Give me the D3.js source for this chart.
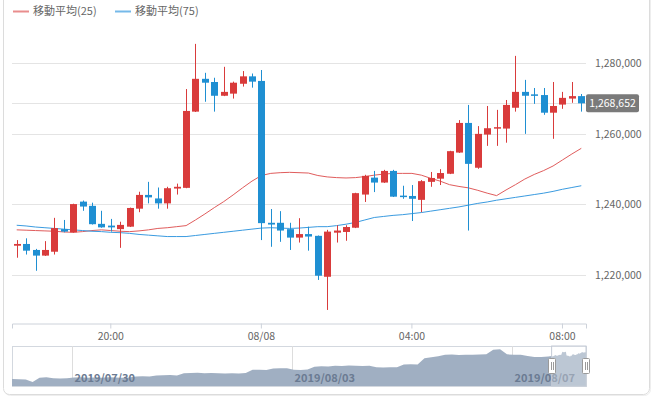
<!DOCTYPE html>
<html>
<head>
<meta charset="utf-8">
<script src="https://cdn.jsdelivr.net/npm/d3@7"></script>
<style>
  html, body { margin: 0; padding: 0; background: #fff; }
  svg { display: block; font-family: "Noto Sans CJK JP", "Noto Sans", sans-serif; }
</style>
</head>
<body>
<svg id="chart" width="653" height="398"></svg>
<script>
// ─── Data ─────────────────────────────────────────────────────────────
// 15-minute candles, 2019/08/07 17:30 → 2019/08/08 08:30
const candleStart = new Date(2019, 7, 7, 17, 30);
const candleStepMinutes = 15;

const opens = [
  1228300, 1228800, 1227100, 1225500, 1226600, 1233000, 1232100, 1240800, 1239600, 1234500,
  1234000, 1233000, 1233700, 1238800, 1242700, 1241700, 1240300, 1244500, 1244700, 1266300,
  1275600, 1274700, 1270800, 1271400, 1274200, 1276300, 1275000, 1234800, 1234800, 1233000,
  1230600, 1231600, 1231100, 1219500, 1232000, 1232200, 1233400, 1242800, 1247600, 1246200,
  1249500, 1242500, 1242400, 1241300, 1246400, 1247300, 1248700, 1254700, 1263100, 1250400,
  1259800, 1261500, 1261500, 1267400, 1271900, 1271200, 1271000, 1266000, 1268300, 1270000,
  1270700
];
const closes = [
  1228800, 1226900, 1225500, 1227100, 1233300, 1232300, 1240100, 1239400, 1234400, 1233500,
  1233500, 1234200, 1239000, 1242700, 1242000, 1240300, 1244600, 1245000, 1266500, 1275600,
  1274500, 1270800, 1271900, 1274500, 1276300, 1274800, 1234700, 1234300, 1232600, 1230600,
  1231600, 1230900, 1219800, 1232300, 1232600, 1233600, 1243200, 1248100, 1246200, 1249500,
  1242200, 1242200, 1241600, 1246600, 1247500, 1248900, 1255100, 1263100, 1251500, 1260000,
  1261600, 1261900, 1268200, 1271900, 1270800, 1270800, 1266000, 1267900, 1270200, 1270700,
  1268652
];
const highs = [
  1229900, 1230400, 1227400, 1229600, 1236200, 1235600, 1240200, 1241100, 1240500, 1238200,
  1235900, 1235100, 1239100, 1243600, 1246400, 1244800, 1245000, 1245900, 1272700, 1285500,
  1277300, 1275900, 1279000, 1274800, 1277800, 1277100, 1278100, 1238700, 1238100, 1234800,
  1236100, 1233700, 1231200, 1232800, 1234100, 1234100, 1243300, 1248400, 1249500, 1249800,
  1249800, 1245300, 1245500, 1246900, 1249200, 1250000, 1255200, 1263900, 1268200, 1262200,
  1267900, 1266800, 1269600, 1282100, 1275300, 1273000, 1273000, 1274700, 1271900, 1274700,
  1271300
];
const lows = [
  1224900, 1225800, 1221200, 1225400, 1225800, 1232100, 1232000, 1238200, 1234300, 1233400,
  1232300, 1227700, 1233600, 1237800, 1240300, 1238800, 1238800, 1242800, 1244600, 1266200,
  1269100, 1266300, 1270700, 1270000, 1273400, 1273100, 1229900, 1228000, 1229400, 1227100,
  1229200, 1226900, 1218600, 1210100, 1229200, 1229700, 1233300, 1240700, 1243500, 1246100,
  1242100, 1241600, 1235300, 1237800, 1245000, 1245500, 1248600, 1254600, 1232600, 1250100,
  1256600, 1256600, 1257500, 1266300, 1260000, 1268500, 1265400, 1258600, 1267100, 1268800,
  1266300
];

// Moving averages
const ma25 = [
  1232800, 1232700, 1232600, 1232500, 1232400, 1232200, 1232100, 1232300, 1232600, 1232800,
  1232600, 1232400, 1232300, 1232500, 1232800, 1233200, 1233400, 1233700, 1234000, 1235600,
  1237300, 1239100, 1240800, 1242700, 1244700, 1246600, 1248200, 1248800, 1249000, 1249100,
  1249000, 1248900, 1248200, 1247800, 1247600, 1247500, 1247600, 1247900, 1248300, 1248600,
  1248800, 1248800, 1248800, 1248300, 1247400, 1246600, 1245600, 1245100, 1244700, 1244000,
  1243200, 1242500, 1244100, 1245600, 1247200, 1248500, 1249600, 1250900, 1252600, 1254300,
  1255900
];
const ma75 = [
  1234100, 1233900, 1233600, 1233400, 1233200, 1233000, 1232800, 1232600, 1232400, 1232300,
  1232100, 1232000, 1231800, 1231500, 1231300, 1231100, 1230900, 1230900, 1230900, 1231200,
  1231500, 1231800, 1232100, 1232400, 1232700, 1233000, 1233300, 1233400, 1233300, 1233200,
  1233300, 1233500, 1233700, 1233700, 1234000, 1234400, 1234900, 1235600, 1236300, 1236600,
  1236900, 1237100, 1237400, 1237700, 1238100, 1238500, 1238900, 1239300, 1239800, 1240300,
  1240700, 1241200, 1241600, 1242000, 1242400, 1242800, 1243200, 1243700, 1244300, 1244800,
  1245300
];

const legendNames = ["移動平均(25)", "移動平均(75)"];
const yTicks = [1220000, 1240000, 1260000, 1280000];
const xTickTimes = ["20:00", "00:00", "04:00", "08:00"];
const xTickLabels = ["20:00", "08/08", "04:00", "08:00"];

// Long history for the zoom slider (3-hour steps from 2019/07/28 22:00)
const historyStart = new Date(2019, 6, 28, 22, 0);
const historyStepHours = 3;
const historyValues = [
  977000, 975000, 972000, 944000, 990000, 996000, 985000, 983000, 986000, 993000,
  995000, 991000, 994000, 992000, 996000, 993000, 990000, 994000, 1005000, 1007000,
  1004000, 1016000, 1018000, 1020000, 1015000, 1040000, 1043000, 1045000, 1041000, 1044000,
  1040000, 1038000, 1039000, 1037000, 1042000, 1078000, 1080000, 1076000, 1092000, 1095000,
  1094000, 1079000, 1077000, 1082000, 1112000, 1117000, 1115000, 1122000, 1120000, 1125000,
  1124000, 1121000, 1123000, 1106000, 1104000, 1107000, 1105000, 1136000, 1139000, 1137000,
  1205000, 1215000, 1228000, 1244000, 1246000, 1241000, 1245000, 1243000, 1247000, 1250000,
  1300000, 1305000, 1248000, 1245000, 1243000, 1230000, 1220000, 1218000, 1225000
];
const sliderTickDates = [new Date(2019, 6, 30), new Date(2019, 7, 3), new Date(2019, 7, 7)];
const sliderTickLabels = ["2019/07/30", "2019/08/03", "2019/08/07"];

// ─── Layout / style ───────────────────────────────────────────────────
const plot = { left: 12, right: 586, top: 20, bottom: 323 };
const slider = { top: 346, bottom: 386 };
const colors = {
  up: "#d93b3b",
  down: "#1f8fd2",
  ma25: "#e05c5c",
  ma75: "#3a9be0",
  grid: "#e4e4e4",
  text: "#666",
  axis: "#cdd2da",
  shadow: "#a0afc2",
  sliderText: "#6b7b92",
};
const fontFamily = '"Noto Sans CJK JP", "Noto Sans", sans-serif';

const svg = d3.select("#chart");

// ─── Card ─────────────────────────────────────────────────────────────
svg.append("rect")
  .attr("x", 4.5).attr("y", -9).attr("width", 646).attr("height", 404.5)
  .attr("rx", 6).attr("fill", "none").attr("stroke", "#eeeeee");
svg.append("rect")
  .attr("x", 3.5).attr("y", -10).attr("width", 646).attr("height", 404.5)
  .attr("rx", 6).attr("fill", "#fff").attr("stroke", "#dcdcdc");

// ─── Scales ───────────────────────────────────────────────────────────
const n = closes.length;
const times = d3.range(n).map((i) => d3.timeMinute.offset(candleStart, i * candleStepMinutes));
const fmtHM = d3.timeFormat("%H:%M");

const x = d3.scaleBand().domain(d3.range(n)).range([plot.left, plot.right]).padding(0);
const cx = (i) => x(i) + x.bandwidth() / 2;
const bodyW = 7;

const y = d3.scaleLinear().domain([1206400, 1292270]).range([plot.bottom, plot.top]);

// ─── Grid ─────────────────────────────────────────────────────────────
svg.append("g")
  .selectAll("line")
  .data(yTicks)
  .join("line")
  .attr("x1", plot.left).attr("x2", plot.right)
  .attr("y1", (d) => Math.round(y(d)) + 0.5)
  .attr("y2", (d) => Math.round(y(d)) + 0.5)
  .attr("stroke", colors.grid);

// last price line
const last = closes[n - 1];
svg.append("line")
  .attr("x1", plot.left).attr("x2", plot.right)
  .attr("y1", Math.round(y(last)) + 0.5).attr("y2", Math.round(y(last)) + 0.5)
  .attr("stroke", colors.grid);

// ─── Y axis (right) ───────────────────────────────────────────────────
const yAxis = svg.append("g")
  .attr("transform", `translate(${plot.right},0)`)
  .call(d3.axisRight(y).tickValues(yTicks).tickSize(0).tickPadding(9).tickFormat(d3.format(",")));
yAxis.select(".domain").remove();
yAxis.selectAll(".tick text")
  .attr("font-family", fontFamily).attr("font-size", 10.5).attr("fill", colors.text);

// ─── X axis ───────────────────────────────────────────────────────────
const xTickIdx = xTickTimes.map((t) => times.findIndex((d) => fmtHM(d) === t));
const xAxis = svg.append("g")
  .attr("transform", `translate(0,${plot.bottom + 0.5})`)
  .call(d3.axisBottom(x).tickValues(xTickIdx).tickSize(5).tickPadding(4)
    .tickFormat((d, i) => xTickLabels[i]));
xAxis.select(".domain").attr("stroke", colors.axis);
xAxis.selectAll(".tick line").attr("stroke", colors.axis);
xAxis.selectAll(".tick text")
  .attr("font-family", fontFamily).attr("font-size", 10.5).attr("fill", colors.text);

// ─── Moving averages ──────────────────────────────────────────────────
const maLine = d3.line().x((d, i) => cx(i)).y((d) => y(d));
svg.append("path").datum(ma25)
  .attr("fill", "none").attr("stroke", colors.ma25).attr("stroke-width", 1).attr("d", maLine);
svg.append("path").datum(ma75)
  .attr("fill", "none").attr("stroke", colors.ma75).attr("stroke-width", 1).attr("d", maLine);

// ─── Candles ──────────────────────────────────────────────────────────
const candles = d3.range(n).map((i) => ({
  i, open: opens[i], close: closes[i], high: highs[i], low: lows[i],
}));
const cg = svg.append("g").selectAll("g").data(candles).join("g");
const candleColor = (d) => (d.close >= d.open ? colors.up : colors.down);

cg.append("line")
  .attr("x1", (d) => Math.round(cx(d.i)) + 0.5)
  .attr("x2", (d) => Math.round(cx(d.i)) + 0.5)
  .attr("y1", (d) => y(d.high))
  .attr("y2", (d) => y(d.low))
  .attr("stroke", candleColor)
  .attr("stroke-width", 1);

cg.append("rect")
  .attr("x", (d) => Math.round(cx(d.i)) + 0.5 - bodyW / 2)
  .attr("width", bodyW)
  .attr("y", (d) => y(Math.max(d.open, d.close)))
  .attr("height", (d) => Math.max(1.5, Math.abs(y(d.open) - y(d.close))))
  .attr("fill", candleColor);

// ─── Last price label ─────────────────────────────────────────────────
const py = y(last);
svg.append("rect")
  .attr("x", plot.right).attr("y", py - 9).attr("width", 53).attr("height", 18)
  .attr("rx", 2).attr("fill", "#7a7a7a");
svg.append("text")
  .attr("x", plot.right + 26.5).attr("y", py).attr("dy", "0.35em")
  .attr("text-anchor", "middle")
  .attr("font-family", fontFamily).attr("font-size", 10.5).attr("fill", "#fff")
  .text(d3.format(",")(last));

// ─── Legend ───────────────────────────────────────────────────────────
const legendColors = [colors.ma25, colors.ma75];
const legendX = [13, 115];
legendNames.forEach((name, k) => {
  const item = svg.append("g").attr("transform", `translate(${legendX[k]},11.5)`);
  item.append("line")
    .attr("x1", 0).attr("x2", 16).attr("y1", 0).attr("y2", 0)
    .attr("stroke", legendColors[k]).attr("stroke-width", 2).attr("stroke-opacity", 0.7);
  item.append("text")
    .attr("x", 20).attr("dy", "0.35em")
    .attr("font-family", fontFamily).attr("font-size", 11).attr("fill", colors.text)
    .text(name);
});

// ─── Zoom slider ──────────────────────────────────────────────────────
const history = historyValues.map((v, k) => ({
  t: d3.timeHour.offset(historyStart, k * historyStepHours), v,
}));
const sliderData = history.concat(times.map((t, i) => ({ t, v: closes[i] })));

const sx = d3.scaleTime().domain([historyStart, times[n - 1]]).range([plot.left, plot.right]);
const sy = d3.scaleLinear().domain([900000, 1340000]).range([slider.bottom, slider.top]);

svg.append("rect")
  .attr("x", plot.left + 0.5).attr("y", slider.top + 0.5)
  .attr("width", plot.right - plot.left).attr("height", slider.bottom - slider.top)
  .attr("fill", "none").attr("stroke", "#d3d8df");

svg.append("g")
  .selectAll("line")
  .data(sliderTickDates)
  .join("line")
  .attr("x1", (d) => Math.round(sx(d)) + 0.5).attr("x2", (d) => Math.round(sx(d)) + 0.5)
  .attr("y1", slider.top).attr("y2", slider.bottom)
  .attr("stroke", "#dddddd");

const area = d3.area()
  .x((d) => sx(d.t))
  .y0(slider.bottom)
  .y1((d) => sy(d.v));
svg.append("path").datum(sliderData)
  .attr("fill", colors.shadow).attr("d", area);

svg.append("g")
  .selectAll("text")
  .data(sliderTickDates)
  .join("text")
  .attr("x", (d) => sx(d) + 3)
  .attr("y", 382)
  .attr("font-family", fontFamily).attr("font-size", 11).attr("font-weight", "bold")
  .attr("fill", colors.sliderText)
  .text((d, k) => sliderTickLabels[k]);

// selected window
const wx0 = sx(candleStart), wx1 = plot.right;
svg.append("rect")
  .attr("x", wx0).attr("y", slider.top)
  .attr("width", wx1 - wx0).attr("height", slider.bottom - slider.top)
  .attr("fill", "rgba(255,255,255,0.3)").attr("stroke", "#c3cad5");

[wx0, wx1].forEach((hx) => {
  const h = svg.append("g").attr("transform", `translate(${Math.round(hx)},366)`);
  h.append("rect")
    .attr("x", -3.5).attr("y", -7.5).attr("width", 7).attr("height", 15)
    .attr("rx", 1).attr("fill", "#fff").attr("stroke", "#9a9a9a");
  h.append("line").attr("x1", -0.5).attr("x2", -0.5).attr("y1", -4).attr("y2", 4).attr("stroke", "#9a9a9a");
  h.append("line").attr("x1", 1.5).attr("x2", 1.5).attr("y1", -4).attr("y2", 4).attr("stroke", "#9a9a9a");
});
</script>
</body>
</html>
